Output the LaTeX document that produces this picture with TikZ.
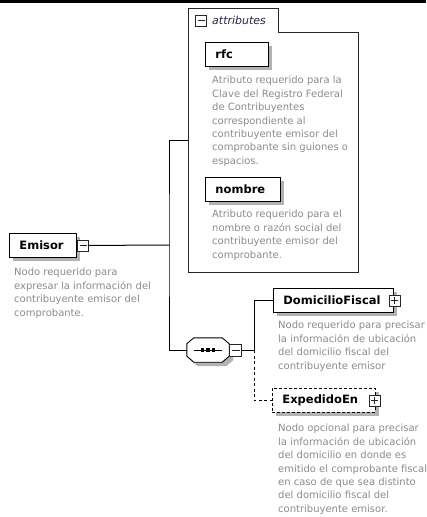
\documentclass[tikz,border=0pt]{standalone}
\usepackage{fontspec}
\setmainfont{DejaVu Sans}
\usetikzlibrary{shadows}
\definecolor{descgray}{RGB}{140,140,140}
\definecolor{shgray}{RGB}{178,178,178}
\definecolor{attrcol}{RGB}{40,40,70}
\begin{document}
\begin{tikzpicture}[x=1pt,y=-1pt,
  elbox/.style={draw=black, line width=0.9pt, fill=white, minimum height=24pt,
    inner xsep=10pt, inner ysep=0pt, align=left, anchor=north west,
    font=\bfseries\fontsize{11.5}{13}\selectfont,
    general shadow={fill=shgray, shadow xshift=4pt, shadow yshift=-4pt}},
  desc/.style={anchor=north west, inner sep=0pt, align=left, text=descgray,
    font=\fontsize{10}{13.4}\selectfont},
  toggle/.style={draw=black!85, line width=0.7pt, fill=white, minimum size=11pt, inner sep=0pt},
  minusbox/.style={toggle, path picture={
    \draw[line width=0.7pt] ([xshift=2pt]path picture bounding box.west) -- ([xshift=-2pt]path picture bounding box.east);}},
  plusbox/.style={toggle, path picture={
    \draw[line width=0.7pt] ([xshift=2pt]path picture bounding box.west) -- ([xshift=-2pt]path picture bounding box.east);
    \draw[line width=0.7pt] ([yshift=-2pt]path picture bounding box.north) -- ([yshift=2pt]path picture bounding box.south);}},
  conn/.style={draw=black, line width=1pt},
  dashconn/.style={conn, dash pattern=on 3pt off 2.5pt}
]
\useasboundingbox (0,0) rectangle (426,517);
\fill[white] (0,0) rectangle (426,517);
\fill[black] (0,0) rectangle (426,2.5);

% attributes group
\node[minimum width=170pt, minimum height=264pt, inner sep=0pt, anchor=north west] (attr) at (188,8) {};
\draw[line width=0.9pt, draw=black!85] (attr.north west) -- ([xshift=90pt]attr.north west)
  -- ([xshift=90pt,yshift=-24pt]attr.north west) -- ([yshift=-24pt]attr.north east)
  -- (attr.south east) -- (attr.south west) -- cycle;
\node[minusbox] (attrm) at (201,20.5) {};
\node[anchor=west, inner sep=0pt, text=attrcol, font=\itshape\fontsize{11}{13}\selectfont] (attrlab) at (212,20.5) {attributes};

\node[elbox, text width=43pt] (rfc) at (205,42) {rfc};
\node[desc] (rfcd) at (212,76) {Atributo requerido para la\\Clave del Registro Federal\\de Contribuyentes\\correspondiente al\\contribuyente emisor del\\comprobante sin guiones o\\espacios.};

\node[elbox, text width=55pt] (nom) at (205,177) {nombre};
\node[desc] (nomd) at (212,210) {Atributo requerido para el\\nombre o razón social del\\contribuyente emisor del\\comprobante.};

% Emisor
\node[elbox, text width=47pt] (em) at (9,233) {Emisor};
\node[minusbox, anchor=west] (emm) at ([xshift=0.5pt]em.east) {};
\node[desc] (emd) at (14,268) {Nodo requerido para\\expresar la información del\\contribuyente emisor del\\comprobante.};

% sequence
\node[minimum width=42pt, minimum height=24pt, inner sep=0pt] (seq) at (208,350) {};
\begin{scope}[transform canvas={shift={(4pt,-4pt)}}]
\fill[shgray] ([xshift=7pt]seq.north west) -- ([xshift=-7pt]seq.north east) -- ([yshift=-6pt]seq.north east)
  -- ([yshift=6pt]seq.south east) -- ([xshift=-7pt]seq.south east) -- ([xshift=7pt]seq.south west)
  -- ([yshift=6pt]seq.south west) -- ([yshift=-6pt]seq.north west) -- cycle;
\end{scope}
\draw[line width=0.9pt, fill=white] ([xshift=7pt]seq.north west) -- ([xshift=-7pt]seq.north east) -- ([yshift=-6pt]seq.north east)
  -- ([yshift=6pt]seq.south east) -- ([xshift=-7pt]seq.south east) -- ([xshift=7pt]seq.south west)
  -- ([yshift=6pt]seq.south west) -- ([yshift=-6pt]seq.north west) -- cycle;
\draw[line width=1pt] ([xshift=7pt]seq.west) -- ([xshift=-7pt]seq.east);
\fill[black] ([xshift=-7pt,yshift=-1.6pt]seq.center) rectangle ([xshift=-3.8pt,yshift=1.6pt]seq.center);
\fill[black] ([xshift=-1.6pt,yshift=-1.6pt]seq.center) rectangle ([xshift=1.6pt,yshift=1.6pt]seq.center);
\fill[black] ([xshift=3.8pt,yshift=-1.6pt]seq.center) rectangle ([xshift=7pt,yshift=1.6pt]seq.center);
\node[minusbox, minimum size=12pt, anchor=west] (seqm) at (seq.east) {};

% children
\node[elbox, text width=100pt] (dom) at (273,288) {DomicilioFiscal};
\node[plusbox] (domp) at ([xshift=0.5pt]dom.east) {};
\node[desc] (domd) at (278,321) {Nodo requerido para precisar\\la información de ubicación\\del domicilio fiscal del\\contribuyente emisor};

\node[elbox, text width=83pt, dash pattern=on 3pt off 2pt] (exp) at (272,388) {ExpedidoEn};
\node[plusbox] (expp) at ([xshift=-1.5pt]exp.east) {};
\node[desc] (expd) at (278,424) {Nodo opcional para precisar\\la información de ubicación\\del domicilio en donde es\\emitido el comprobante fiscal\\en caso de que sea distinto\\del domicilio fiscal del\\contribuyente emisor.};

% connectors
\coordinate (j) at (169,245);
\coordinate (k) at (254,350);
\draw[conn] (emm.east) -- (j);
\draw[conn] (attr.west) -| (j) |- (seq.west);
\draw[conn] (seqm.east) -- (k);
\draw[conn] (dom.west) -| (k);
\draw[dashconn] (k) |- (exp.west);
\end{tikzpicture}
\end{document}
